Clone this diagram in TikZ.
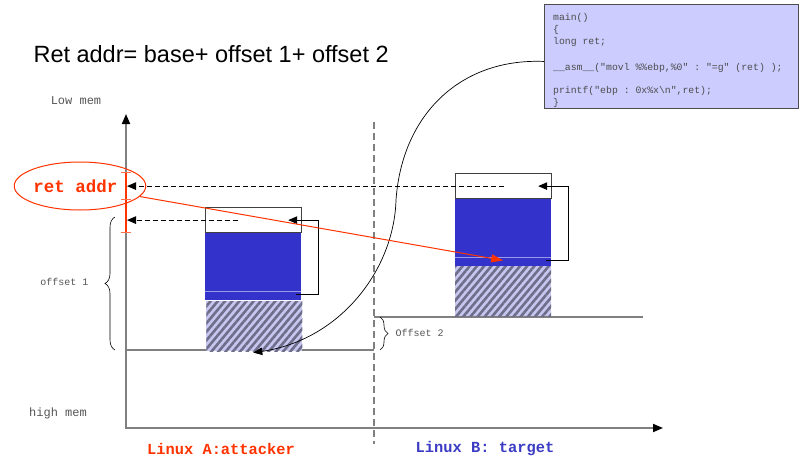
\documentclass[tikz,border=0pt]{standalone}
\usepackage{fontspec}
\setmainfont{Liberation Sans}
\setmonofont{Liberation Mono}
\usetikzlibrary{arrows.meta, positioning, shapes.geometric, decorations.pathreplacing, patterns.meta}
\definecolor{attack}{HTML}{FF3300}
\definecolor{victim}{HTML}{3B3BC4}
\definecolor{stackblue}{HTML}{3333CC}
\definecolor{codebg}{HTML}{CCCCFF}
\definecolor{hatchlt}{HTML}{C6C6F0}
\definecolor{hatchdk}{HTML}{6E6E8A}
\definecolor{axisgray}{HTML}{808080}
\definecolor{ink}{HTML}{555555}

\begin{document}
\begin{tikzpicture}[x=1pt, y=-1pt, >={Triangle[length=9pt, width=7.5pt]},
    axisline/.style={draw=axisgray, line width=1.8pt},
    memlabel/.style={font=\ttfamily\fontsize{12}{14}\selectfont, text=ink},
    offlabel/.style={font=\ttfamily\fontsize{10}{12}\selectfont, text=ink},
    oslabel/.style={font=\ttfamily\bfseries\fontsize{15.4}{18}\selectfont},
    cell/.style={anchor=north west, inner sep=0pt, minimum width=96pt},
    slot/.style={cell, draw=black!75, fill=white, line width=1.2pt, minimum height=25pt},
    body/.style={cell, fill=stackblue, minimum height=68pt},
    hatch/.style={cell, minimum height=50pt, preaction={fill=hatchlt},
      pattern={Lines[angle=50, distance=5.5pt, line width=2.6pt]}, pattern color=hatchdk},
    dasharrow/.style={->, dash pattern=on 5pt off 3pt, line width=0.9pt},
    brace/.style={decorate, decoration={brace, amplitude=#1}, line width=0.6pt},
    brace/.default=10pt]
  \useasboundingbox (0,0) rectangle (805,458);

  % title and memory labels
  \node[anchor=base west, font=\fontsize{23.5}{28}\selectfont] (title) at (30,62) {Ret addr= base+ offset 1+ offset 2};
  \node[memlabel] (lowmem) at (76,101) {Low mem};
  \node[memlabel] (highmem) at (58,413) {high mem};

  % axes
  \coordinate (origin) at (126,428);
  \draw[axisline, {Triangle[length=10pt, width=8pt, black]}-{Triangle[length=10pt, width=8pt, black]}]
    (126,114) -- (origin) -- (663,428);
  \draw[axisgray, line width=1.2pt, dash pattern=on 7pt off 4pt] (374,122) -- (374,444);
  \draw[axisline] (126,350) -- (374,350);
  \draw[axisline] (374,317) -- (643,317);

  % memory stacks
  \foreach \k/\x/\y in {A/205/207, B/455/173} {
    \node[body] (body\k) at (\x,\y+25) {};
    \node[hatch] (hatch\k) at (\x,\y+93) {};
    \node[slot] (slot\k) at (\x,\y) {};
    \draw[stackblue!50!white, line width=0.6pt] ([yshift=9pt]body\k.south west) -- ([yshift=9pt]body\k.south east);
    \draw[->, line width=0.9pt] ([xshift=-5pt, yshift=6pt]body\k.south east) -- ++(22,0) |- ([xshift=-14pt]slot\k.east);
  }

  % ret addr marker
  \draw[attack, line width=1.6pt] (126,172) -- (126,232);
  \foreach \t in {172,199,232}
    \draw[attack!70!white, line width=0.8pt] (121,\t) -- (131,\t);
  \node[ellipse, draw=attack, line width=1pt, minimum width=130pt, minimum height=48pt, inner sep=0pt,
    text=attack, font=\ttfamily\bfseries\fontsize{17.5}{20}\selectfont] (retaddr) at (80,186) {ret addr\hspace*{9pt}};

  \draw[dasharrow, shorten >=1pt] (slotB.center) -- (slotB.center -| origin);
  \draw[dasharrow, shorten >=1pt] ([xshift=-16pt]slotA.center) -- (slotA.center -| origin);

  % offsets
  \draw[brace] (115,350) -- (115,217);
  \node[offlabel, anchor=east] (off1) at (92,282) {offset 1};
  \draw[brace=8pt] (380,317) -- (380,350);
  \node[offlabel, anchor=west] (off2) at (392,333) {Offset 2};

  % code box
  \node[draw=black!70, fill=codebg, line width=0.9pt, anchor=north west, minimum width=254pt,
    minimum height=104pt, inner sep=0pt] (code) at (544,4) {};
  \node[anchor=north west, align=left, inner sep=0pt, text=black!70,
    font=\ttfamily\fontsize{9.8}{12}\selectfont] (codetext) at ([xshift=9pt, yshift=-9pt]code.north west)
    {main()\\ \{\\ long ret;\\[14pt] \_\_asm\_\_("movl \%\%ebp,\%0" : "=g" (ret) );\\[11pt]
     printf("ebp : 0x\%x\textbackslash n",ret);\\ \}};

  \draw[->, line width=0.7pt] ([yshift=-5pt]code.west) .. controls (460,58) and (402,115) .. (396,200)
    .. controls (394,270) and (340,340) .. ([xshift=-1pt]hatchA.south);

  \coordinate (hit) at ([yshift=6pt]bodyB.south);
  \draw[attack, line width=1pt, -{Triangle[length=12pt, width=8pt]}] (retaddr) -- (hit);

  % machines
  \node[oslabel, text=attack] (osA) at (221,449) {Linux A:attacker};
  \node[oslabel, text=victim] (osB) at (485,449) {Linux B: target};
\end{tikzpicture}
\end{document}
